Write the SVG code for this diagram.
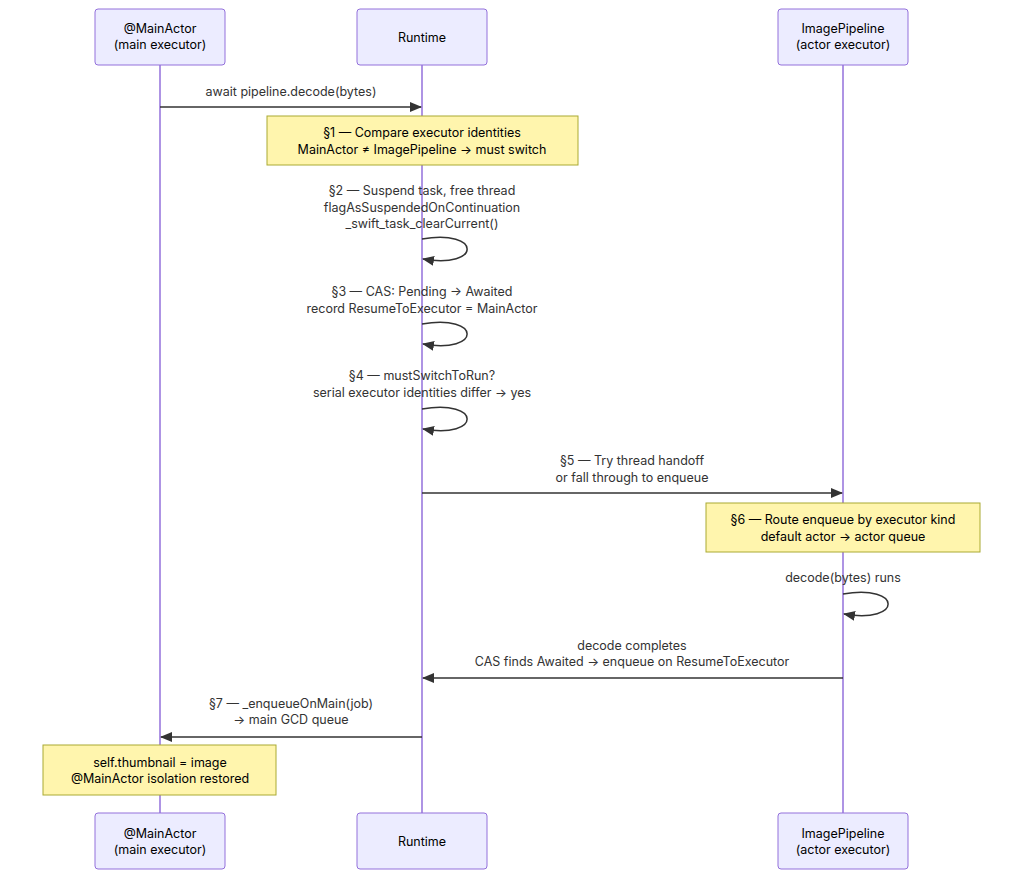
<svg xmlns="http://www.w3.org/2000/svg" width="1024" height="879" viewBox="0 0 1024 879">
<style>
text{font-family:Inter,"Liberation Sans",sans-serif;font-size:12.5px;fill:#333;text-anchor:middle}
.actor{fill:#ECECFF;stroke:#9370DB;stroke-width:1}
.actor-t{fill:#000}
.life{stroke:#9370DB;stroke-width:1.5}
.msg{stroke:#333;stroke-width:1.5;fill:none}
.note{fill:#FFF5AD;stroke:#AAAA33;stroke-width:1}
.note-t{fill:#000}
</style>
<defs>
<marker id="ah" viewBox="0 0 12 10" refX="11" refY="5" markerWidth="12" markerHeight="10" markerUnits="userSpaceOnUse" orient="auto"><path d="M0,0 L12,5 L0,10 z" fill="#333"/></marker>
</defs>
<g id="lifelines">
<line class="life" x1="160" y1="65" x2="160" y2="813"/>
<line class="life" x1="422" y1="65" x2="422" y2="813"/>
<line class="life" x1="843" y1="65" x2="843" y2="813"/>
</g>
<g id="actor-main"><rect class="actor" x="95" y="9" width="130" height="56" rx="3"/><text class="actor-t" x="160" y="33">@MainActor</text><text class="actor-t" x="160" y="49">(main executor)</text></g>
<g id="actor-runtime"><rect class="actor" x="357" y="9" width="130" height="56" rx="3"/><text class="actor-t" x="422" y="42">Runtime</text></g>
<g id="actor-pipeline"><rect class="actor" x="778" y="9" width="130" height="56" rx="3"/><text class="actor-t" x="843" y="33">ImagePipeline</text><text class="actor-t" x="843" y="49">(actor executor)</text></g>
<g id="actor-main-bottom"><rect class="actor" x="95" y="813" width="130" height="56" rx="3"/><text class="actor-t" x="160" y="838">@MainActor</text><text class="actor-t" x="160" y="854">(main executor)</text></g>
<g id="actor-runtime-bottom"><rect class="actor" x="357" y="813" width="130" height="56" rx="3"/><text class="actor-t" x="422" y="846">Runtime</text></g>
<g id="actor-pipeline-bottom"><rect class="actor" x="778" y="813" width="130" height="56" rx="3"/><text class="actor-t" x="843" y="838">ImagePipeline</text><text class="actor-t" x="843" y="854">(actor executor)</text></g>
<g id="connectors">
<line class="msg" x1="160" y1="107" x2="421" y2="107" marker-end="url(#ah)"/>
<path class="msg" d="M422,239 C482,229 482,269 423,259" marker-end="url(#ah)"/>
<path class="msg" d="M422,324 C482,314 482,354 423,344" marker-end="url(#ah)"/>
<path class="msg" d="M422,409 C482,399 482,439 423,429" marker-end="url(#ah)"/>
<line class="msg" x1="422" y1="493" x2="842" y2="493" marker-end="url(#ah)"/>
<path class="msg" d="M843,594 C903,584 903,624 844,614" marker-end="url(#ah)"/>
<line class="msg" x1="843" y1="678" x2="423" y2="678" marker-end="url(#ah)"/>
<line class="msg" x1="422" y1="737" x2="161" y2="737" marker-end="url(#ah)"/>
</g>
<g id="labels">
<text x="291" y="96">await pipeline.decode(bytes)</text>
<text x="422" y="195">§2 — Suspend task, free thread</text>
<text x="422" y="212">flagAsSuspendedOnContinuation</text>
<text x="422" y="228">_swift_task_clearCurrent()</text>
<text x="422" y="296">§3 — CAS: Pending → Awaited</text>
<text x="422" y="313">record ResumeToExecutor = MainActor</text>
<text x="422" y="380">§4 — mustSwitchToRun?</text>
<text x="422" y="397">serial executor identities differ → yes</text>
<text x="632" y="465">§5 — Try thread handoff</text>
<text x="632" y="482">or fall through to enqueue</text>
<text x="843" y="582">decode(bytes) runs</text>
<text x="632" y="650">decode completes</text>
<text x="632" y="666">CAS finds Awaited → enqueue on ResumeToExecutor</text>
<text x="291" y="708">§7 — _enqueueOnMain(job)</text>
<text x="291" y="724">→ main GCD queue</text>
</g>
<g id="note1"><rect class="note" x="267" y="116" width="311" height="49"/><text class="note-t" x="422" y="137">§1 — Compare executor identities</text><text class="note-t" x="422" y="154">MainActor ≠ ImagePipeline → must switch</text></g>
<g id="note6"><rect class="note" x="706" y="503" width="274" height="49"/><text class="note-t" x="843" y="524">§6 — Route enqueue by executor kind</text><text class="note-t" x="843" y="541">default actor → actor queue</text></g>
<g id="note7"><rect class="note" x="43" y="745" width="233" height="50"/><text class="note-t" x="160" y="767">self.thumbnail = image</text><text class="note-t" x="160" y="783">@MainActor isolation restored</text></g>
</svg>
